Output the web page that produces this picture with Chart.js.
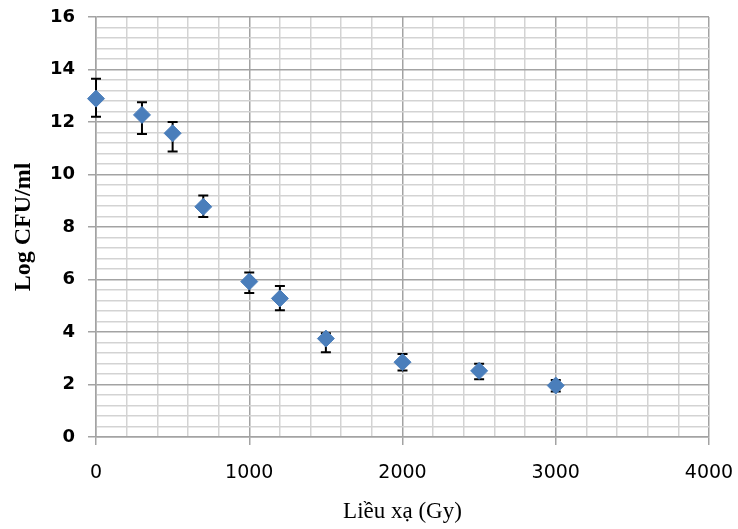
<!DOCTYPE html>
<html>
<head>
<meta charset="utf-8">
<script src="https://cdn.jsdelivr.net/npm/chart.js@4.4.1/dist/chart.umd.min.js"></script>
<style>
  html, body { margin: 0; padding: 0; background: #ffffff; }
  #wrap { width: 738px; height: 529px; }
</style>
</head>
<body>
<div id="wrap"><canvas id="c" width="738" height="529"></canvas></div>
<script>
// ---- data ----
const doses   = [0, 300, 500, 700, 1000, 1200, 1500, 2000, 2500, 3000];      // Gy
const logCFU  = [12.89, 12.27, 11.57, 8.77, 5.92, 5.28, 3.75, 2.85, 2.52, 1.96];
const errUp   = [0.76, 0.48, 0.43, 0.43, 0.35, 0.47, 0.20, 0.31, 0.27, 0.21];
const errDown = [0.69, 0.73, 0.69, 0.39, 0.43, 0.45, 0.52, 0.32, 0.32, 0.23];
const xTickLabels = [0, 1000, 2000, 3000, 4000];
const yTickLabels = [0, 2, 4, 6, 8, 10, 12, 14, 16];
const xTitle = 'Liều xạ (Gy)';
const yTitle = 'Log CFU/ml';

const MAJOR = '#a3a3a3';
const MINOR = '#d3d3d3';

function isMajorX(v) { return xTickLabels.some(t => Math.abs(t - v) < 1e-6); }
function isMajorY(v) { return yTickLabels.some(t => Math.abs(t - v) < 1e-6); }

const errorBars = {
  id: 'errorBars',
  beforeDatasetsDraw(chart) {
    const {ctx, scales: {x, y}} = chart;
    ctx.save();
    ctx.strokeStyle = '#000000';
    ctx.lineWidth = 2;
    const cap = 5;
    for (let i = 0; i < doses.length; i++) {
      const px = x.getPixelForValue(doses[i]);
      const top = y.getPixelForValue(logCFU[i] + errUp[i]);
      const bot = y.getPixelForValue(logCFU[i] - errDown[i]);
      ctx.beginPath();
      ctx.moveTo(px, top); ctx.lineTo(px, bot);
      ctx.moveTo(px - cap, top); ctx.lineTo(px + cap, top);
      ctx.moveTo(px - cap, bot); ctx.lineTo(px + cap, bot);
      ctx.stroke();
    }
    ctx.restore();
  }
};

new Chart(document.getElementById('c'), {
  type: 'scatter',
  data: {
    datasets: [{
      data: doses.map((d, i) => ({x: d, y: logCFU[i]})),
      pointStyle: 'rectRot',
      pointRadius: 8.5,
      pointHoverRadius: 8.5,
      backgroundColor: '#4a7ebb',
      borderColor: '#4a7ebb',
      borderWidth: 1,
      showLine: false,
      clip: false
    }]
  },
  options: {
    responsive: false,
    animation: false,
    layout: { padding: { left: 0, top: 17, right: 29, bottom: 0 } },
    plugins: { legend: { display: false }, tooltip: { enabled: false } },
    scales: {
      x: {
        type: 'linear',
        min: 0, max: 4000,
        afterFit(s) { s.height = 92; s.paddingLeft = 0; s.paddingRight = 0; },
        ticks: {
          stepSize: 200,
          autoSkip: false,
          maxRotation: 0,
          padding: 17,
          color: '#000000',
          font: { family: 'DejaVu Sans', size: 19 },
          callback: v => isMajorX(v) ? String(v) : ''
        },
        grid: {
          color: c => isMajorX(c.tick.value) ? MAJOR : MINOR,
          lineWidth: 1.5,
          tickLength: 8,
          tickColor: c => isMajorX(c.tick.value) ? MAJOR : 'rgba(0,0,0,0)'
        },
        border: { color: MAJOR, width: 1.5 },
        title: {
          display: true,
          text: xTitle,
          color: '#000000',
          font: { family: 'Liberation Serif', size: 23 },
          padding: { top: 0, bottom: 3 }
        }
      },
      y: {
        min: 0, max: 16,
        afterFit(s) { s.width = 96; s.paddingTop = 0; s.paddingBottom = 0; },
        ticks: {
          stepSize: 0.4,
          autoSkip: false,
          padding: 13,
          color: '#000000',
          font: { family: 'DejaVu Sans', size: 18, weight: 'bold' },
          callback: v => isMajorY(v) ? String(Math.round(v)) : ''
        },
        grid: {
          color: c => isMajorY(c.tick.value) ? MAJOR : MINOR,
          lineWidth: 1.5,
          tickLength: 8,
          tickColor: c => isMajorY(c.tick.value) ? MAJOR : 'rgba(0,0,0,0)'
        },
        border: { color: MAJOR, width: 1.5 },
        title: {
          display: true,
          text: yTitle,
          color: '#000000',
          font: { family: 'Liberation Serif', size: 24, weight: 'bold' },
          padding: { top: 9, bottom: 0 }
        }
      }
    }
  },
  plugins: [errorBars]
});
</script>
</body>
</html>
